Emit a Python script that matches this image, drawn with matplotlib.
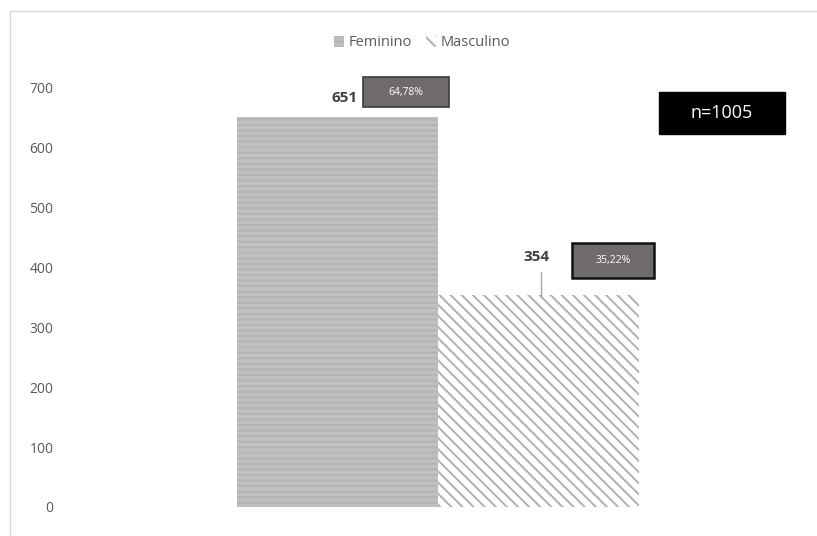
import matplotlib.pyplot as plt
from matplotlib.patches import Rectangle

categorias = ['Feminino', 'Masculino']
valores = [651, 354]
percentuais = ['64,78%', '35,22%']
total = 1005

plt.rcParams['font.family'] = ['Open Sans', 'DejaVu Sans']
plt.rcParams['hatch.linewidth'] = 1.4

fig = plt.figure(figsize=(8.17, 5.36), dpi=100)
fig.patches.append(Rectangle((0.012, -0.01), 1.0, 0.99, transform=fig.transFigure,
                             fill=False, edgecolor='#d9d9d9', linewidth=1))
ax = fig.add_axes([70 / 817, 29 / 536, 730 / 817, 437 / 536])

cores = ['#c0c0c0', 'white']
hatches = ['---', '\\\\\\']
hcor = ['#b4b4b4', '#b0b0b0']
barras = []
for i, (c, v) in enumerate(zip(categorias, valores)):
    b = ax.bar(i, v, width=1, color=cores[i], hatch=hatches[i], edgecolor=hcor[i],
               linewidth=0, label=c)
    barras.append(b)

ax.set_xlim(-1.331, 2.301)
ax.set_ylim(0, 730)
ax.set_yticks(range(0, 701, 100))
ax.set_xticks([])
ax.tick_params(axis='y', length=0, labelsize=10, labelcolor='#595959', pad=12)
for s in ax.spines.values():
    s.set_visible(False)


def caixa(x0, x1, y0, y1, texto, fc, ec, lw, tc, fs):
    ax.add_patch(Rectangle((x0, y0), x1 - x0, y1 - y0, facecolor=fc, edgecolor=ec,
                           linewidth=lw, zorder=3))
    ax.text((x0 + x1) / 2, (y0 + y1) / 2, texto, ha='center', va='center',
            fontsize=fs, color=tc, zorder=4)


# rótulos de valor
ax.text(0.037, 683, str(valores[0]), ha='center', va='center', fontsize=11,
        fontweight='bold', color='#404040')
caixa(0.127, 0.555, 668, 718, percentuais[0], '#6f6b6b', '#3a3a3a', 1.2, 'white', 7.5)

ax.text(0.99, 418, str(valores[1]), ha='center', va='center', fontsize=11,
        fontweight='bold', color='#404040')
ax.plot([1.01, 1.01], [353, 392], color='#a6a6a6', lw=1)
caixa(1.167, 1.575, 382, 441, percentuais[1], '#6f6b6b', '#111111', 1.8, 'white', 7.5)

caixa(1.6, 2.226, 623, 694, 'n=%d' % total, 'black', 'black', 1, 'white', 13)

fig.legend(handles=[b[0] for b in barras], labels=categorias, loc='center',
           bbox_to_anchor=(422 / 817, 1 - 43 / 536), ncol=2, frameon=False,
           fontsize=10.5, labelcolor='#595959', handlelength=0.7, handleheight=0.7,
           handletextpad=0.3, columnspacing=1.0)

fig.savefig('out.png', dpi=100)
